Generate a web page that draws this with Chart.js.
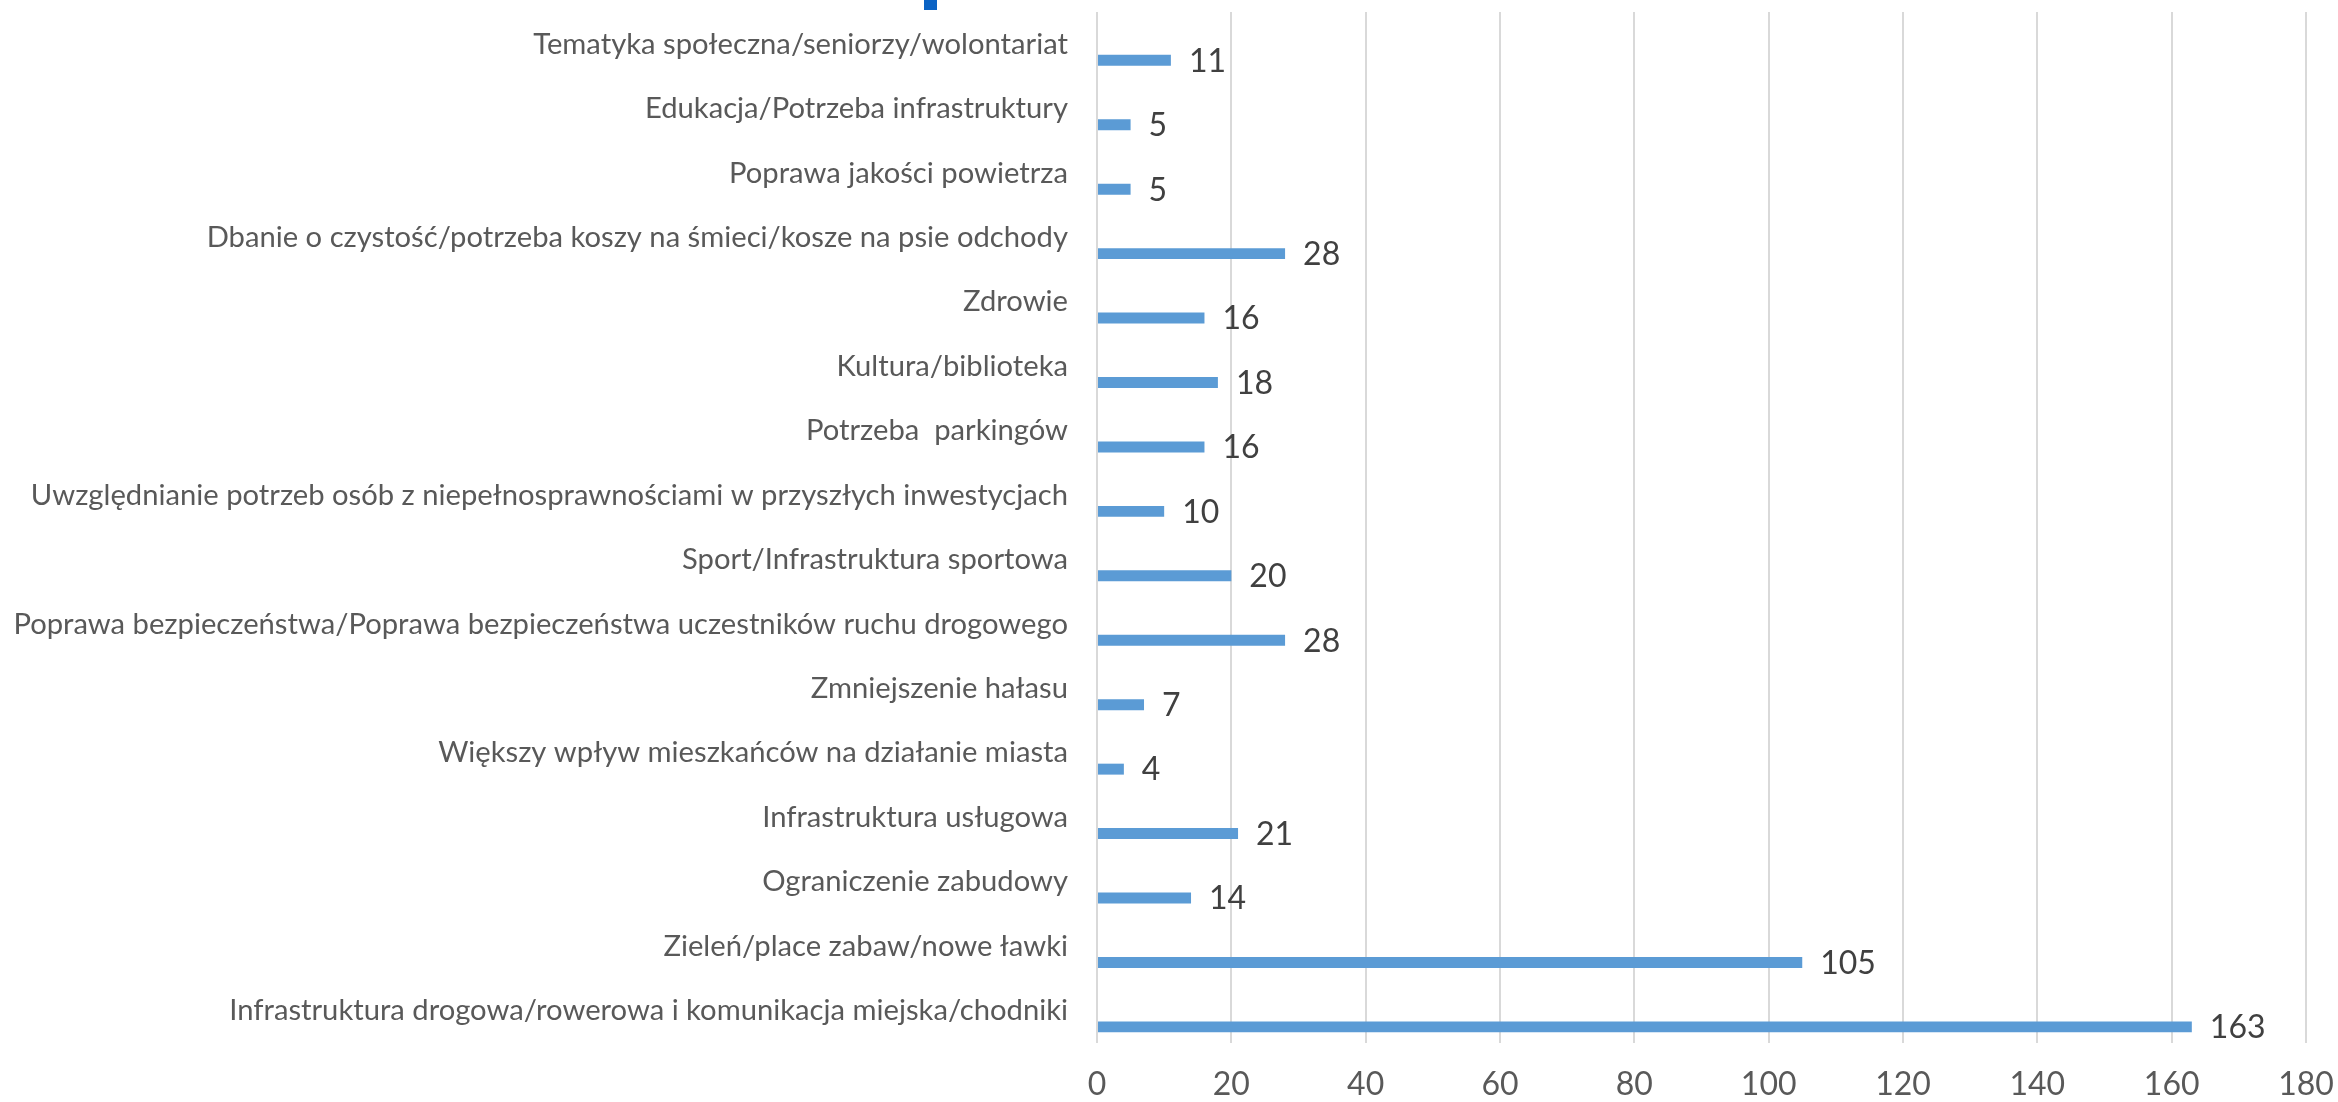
<!DOCTYPE html>
<html>
<head>
<meta charset="utf-8">
<script src="https://cdn.jsdelivr.net/npm/chart.js@4/dist/chart.umd.min.js"></script>
<style>
  body { margin: 0; background: #fff; }
  #wrap { position: relative; width: 2338px; height: 1102px; }
  #titleBit { position: absolute; left: 924px; top: 0; width: 13px; height: 10px; background: #0b63c4; }
</style>
</head>
<body>
<div id="wrap">
  <canvas id="chart"></canvas>
  <div id="titleBit"></div>
</div>
<script>
// kategorie od góry do dołu
const categories = [
  "Tematyka społeczna/seniorzy/wolontariat",
  "Edukacja/Potrzeba infrastruktury",
  "Poprawa jakości powietrza",
  "Dbanie o czystość/potrzeba koszy na śmieci/kosze na psie odchody",
  "Zdrowie",
  "Kultura/biblioteka",
  "Potrzeba  parkingów",
  "Uwzględnianie potrzeb osób z niepełnosprawnościami w przyszłych inwestycjach",
  "Sport/Infrastruktura sportowa",
  "Poprawa bezpieczeństwa/Poprawa bezpieczeństwa uczestników ruchu drogowego",
  "Zmniejszenie hałasu",
  "Większy wpływ mieszkańców na działanie miasta",
  "Infrastruktura usługowa",
  "Ograniczenie zabudowy",
  "Zieleń/place zabaw/nowe ławki",
  "Infrastruktura drogowa/rowerowa i komunikacja miejska/chodniki"
];
const counts = [11, 5, 5, 28, 16, 18, 16, 10, 20, 28, 7, 4, 21, 14, 105, 163];
const emptySeries = categories.map(() => null);
const xMin = 0;
const xMax = 180;
const xStep = 20;

// etykiety wartości po prawej stronie słupków
const valueLabels = {
  id: "valueLabels",
  afterDatasetsDraw(chart) {
    const ctx = chart.ctx;
    const meta = chart.getDatasetMeta(1);
    ctx.save();
    ctx.font = "32px Lato";
    ctx.fillStyle = "#404040";
    ctx.textAlign = "left";
    ctx.textBaseline = "middle";
    meta.data.forEach((bar, i) => {
      ctx.fillText(String(counts[i]), bar.x + 18, bar.y + 1);
    });
    ctx.restore();
  }
};

new Chart(document.getElementById("chart"), {
  type: "bar",
  data: {
    labels: categories,
    datasets: [
      {
        label: "",
        data: emptySeries,
        backgroundColor: "#5B9BD5",
        barPercentage: 0.34,
        categoryPercentage: 1.0
      },
      {
        label: "Liczba wskazań",
        data: counts,
        backgroundColor: "#5B9BD5",
        barPercentage: 0.34,
        categoryPercentage: 1.0
      }
    ]
  },
  options: {
    indexAxis: "y",
    responsive: true,
    maintainAspectRatio: false,
    animation: false,
    layout: { padding: { left: 0, right: 32, top: 12, bottom: 0 } },
    plugins: {
      legend: { display: false },
      tooltip: { enabled: false }
    },
    scales: {
      x: {
        min: xMin,
        max: xMax,
        ticks: {
          stepSize: xStep,
          font: { family: "Lato", size: 32 },
          color: "#595959",
          padding: 22
        },
        grid: { color: "#d9d9d9", lineWidth: 2, drawTicks: false },
        border: { display: false },
        afterFit(scale) {
          scale.height = 59;
          scale.paddingLeft = 0;
          scale.paddingRight = 0;
        }
      },
      y: {
        ticks: {
          font: { family: "Lato", size: 29.2 },
          color: "#595959",
          padding: 29,
          autoSkip: false
        },
        grid: { display: false, drawTicks: false },
        border: { display: false },
        afterFit(scale) {
          scale.width = 1097;
          scale.paddingTop = 0;
          scale.paddingBottom = 0;
        }
      }
    }
  },
  plugins: [valueLabels]
});
</script>
</body>
</html>
